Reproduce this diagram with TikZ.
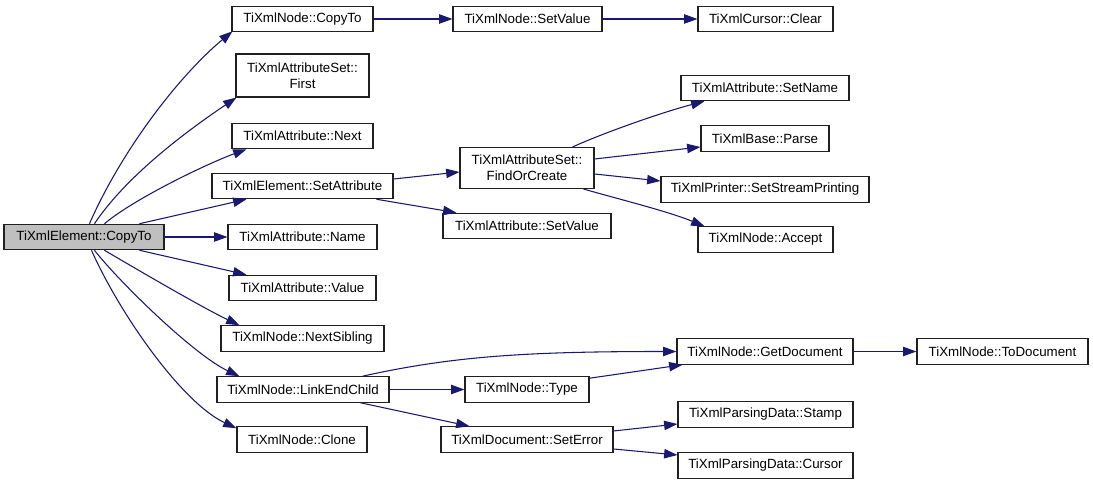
\documentclass[tikz,border=0pt]{standalone}
\usepackage{fontspec}
\setmainfont{Liberation Sans}
\usetikzlibrary{arrows.meta,calc}
\definecolor{edgeblue}{HTML}{191970}
\definecolor{mainfill}{HTML}{BFBFBF}
\definecolor{boxline}{HTML}{202020}
\begin{document}
\begin{tikzpicture}[x=0.75pt,y=0.75pt,
  box/.style={draw=boxline, line width=0.8pt, fill=white, inner sep=0pt,
    minimum height=25.5*0.75pt, align=center,
    font=\fontsize{10pt}{12pt}\selectfont},
  bw/.style={minimum width=#1*0.75pt},
  bh/.style={minimum height=#1*0.75pt},
  e/.style={draw=edgeblue, line width=0.8pt, -{Triangle[length=10pt,width=7pt]}}]
\useasboundingbox[fill=white] (0,0) rectangle (1093,-484);
% column 1
\node[box,bw=160,fill=mainfill] (main) at (84,-237) {TiXmlElement::CopyTo};
% column 2
\node[box,bw=141] (cpy) at (302.5,-19) {TiXmlNode::CopyTo};
\node[box,bw=133,bh=43] (first) at (302.5,-75.5) {TiXmlAttributeSet::\\First};
\node[box,bw=141] (next) at (302.5,-136) {TiXmlAttribute::Next};
\node[box,bw=181] (setattr) at (302.5,-186) {TiXmlElement::SetAttribute};
\node[box,bw=149] (aname) at (302.5,-237) {TiXmlAttribute::Name};
\node[box,bw=147] (avalue) at (302.5,-288) {TiXmlAttribute::Value};
\node[box,bw=163] (nsib) at (302.5,-338.5) {TiXmlNode::NextSibling};
\node[box,bw=172] (link) at (303,-389.5) {TiXmlNode::LinkEndChild};
\node[box,bw=130] (clone) at (302,-439.5) {TiXmlNode::Clone};
% column 3
\node[box,bw=149] (nsetval) at (527.5,-19) {TiXmlNode::SetValue};
\node[box,bw=134,bh=41] (foc) at (527,-168) {TiXmlAttributeSet::\\FindOrCreate};
\node[box,bw=168] (asetval) at (527,-226) {TiXmlAttribute::SetValue};
\node[box,bw=124] (type) at (527,-389.5) {TiXmlNode::Type};
\node[box,bw=172] (seterr) at (527,-439.5) {TiXmlDocument::SetError};
% column 4
\node[box,bw=135] (clear) at (765.5,-19) {TiXmlCursor::Clear};
\node[box,bw=168] (setname) at (765,-88) {TiXmlAttribute::SetName};
\node[box,bw=128] (parse) at (765,-138.5) {TiXmlBase::Parse};
\node[box,bw=208] (ssp) at (765,-189.5) {TiXmlPrinter::SetStreamPrinting};
\node[box,bw=135] (accept) at (765.5,-239.5) {TiXmlNode::Accept};
\node[box,bw=176] (getdoc) at (765,-351.5) {TiXmlNode::GetDocument};
\node[box,bw=175] (stamp) at (765.5,-414.5) {TiXmlParsingData::Stamp};
\node[box,bw=175] (cursor) at (765.5,-465.5) {TiXmlParsingData::Cursor};
% column 5
\node[box,bw=171] (todoc) at (1002.5,-351.5) {TiXmlNode::ToDocument};
% edges from main
\draw[e] ($(main.north west)+(86,0)$) .. controls +(32,73) and +(-54,-45) .. ($(cpy.south west)+(1,1)$);
\draw[e] ($(main.north west)+(91,0)$) .. controls +(33.5,50) and +(-45.6,-30.8) .. ($(first.south west)+(1,0)$);
\draw[e] ($(main.north west)+(101,0)$) .. controls +(30.6,25.7) and +(-37.6,-13.7) .. ($(next.south west)+(15,0)$);
\draw[e] ($(main.north west)+(136,0)$) -- ($(setattr.south west)+(35,0)$);
\draw[e] (main) -- (aname);
\draw[e] ($(main.south west)+(136,0)$) -- ($(avalue.north west)+(18,0)$);
\draw[e] ($(main.south west)+(101,0)$) .. controls +(34,-20) and +(-36,17) .. ($(nsib.north west)+(19,0)$);
\draw[e] ($(main.south west)+(91,0)$) .. controls +(24.6,-31.5) and +(-45.3,21.1) .. ($(link.north west)+(23,0)$);
\draw[e] ($(main.south west)+(88,0)$) .. controls +(28.5,-64) and +(-54.4,25.4) .. ($(clone.north west)+(0,-2)$);
% other edges
\draw[e] (cpy) -- (nsetval);
\draw[e] (nsetval) -- (clear);
\draw[e] ($(setattr.east)+(0,7)$) -- ($(foc.west)+(0,-4)$);
\draw[e] ($(setattr.south east)+(-17,0)$) -- ($(asetval.north west)+(14,0)$);
\draw[e] ($(foc.north west)+(113,0)$) .. controls +(36.5,16.3) and +(-38.7,-10) .. ($(setname.south west)+(24,0)$);
\draw[e] ($(foc.east)+(0,9)$) -- ($(parse.west)+(0,-8.5)$);
\draw[e] ($(foc.east)+(0,-6)$) -- ($(ssp.west)+(0,8.5)$);
\draw[e] ($(foc.south east)+(-11,0)$) .. controls +(38.5,-11) and +(-37,15) .. ($(accept.north west)+(7,0)$);
\draw[e] ($(link.north east)+(-27,0)$) .. controls +(90,20) and +(-150,0) .. (getdoc.west);
\draw[e] (link) -- (type);
\draw[e] ($(link.south east)+(-29,0)$) -- ($(seterr.north west)+(29,0)$);
\draw[e] ($(type.north east)+(0,-2)$) -- ($(getdoc.south west)+(6,0)$);
\draw[e] ($(seterr.east)+(0,8.5)$) -- ($(stamp.west)+(0,-9.5)$);
\draw[e] ($(seterr.east)+(0,-9.5)$) -- ($(cursor.west)+(0,10.5)$);
\draw[e] (getdoc) -- (todoc);
\end{tikzpicture}
\end{document}
